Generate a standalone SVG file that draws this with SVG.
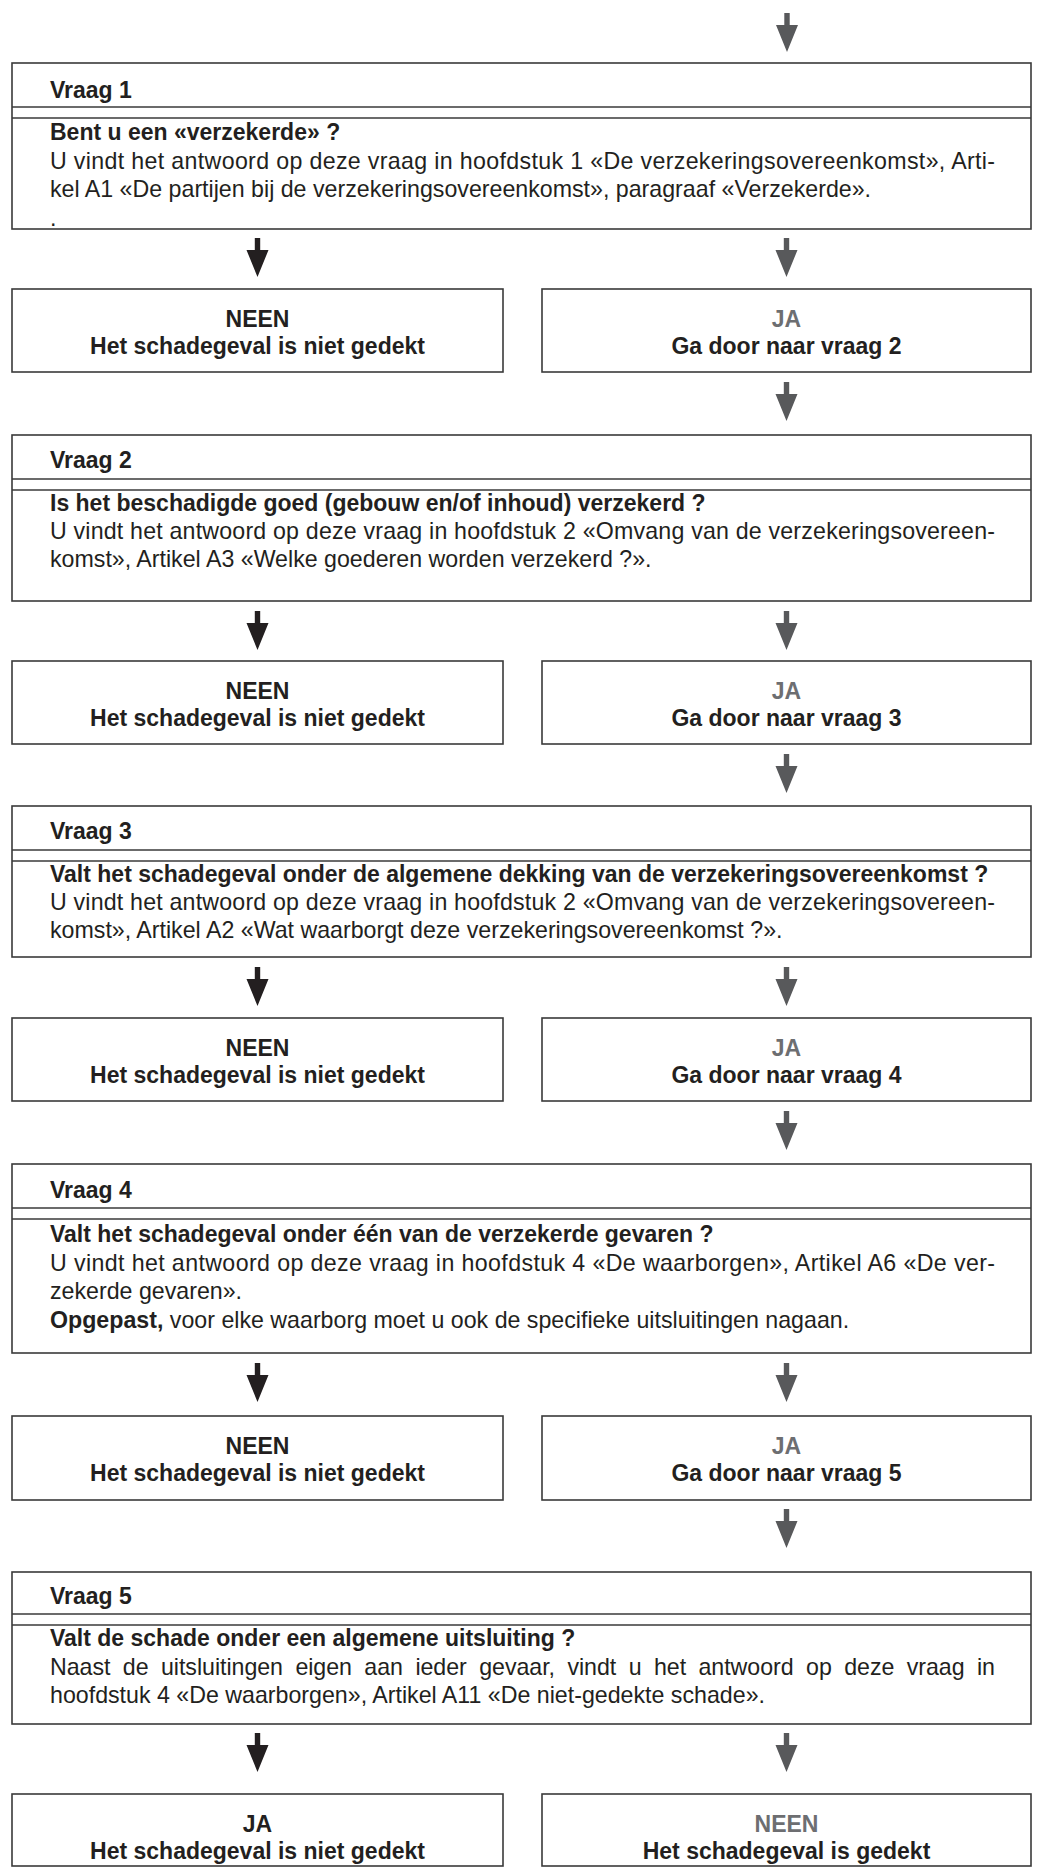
<svg xmlns="http://www.w3.org/2000/svg" xmlns:xlink="http://www.w3.org/1999/xlink" width="1038" height="1867" viewBox="0 0 1038 1867">
<style>
.box{fill:#fff;stroke:#3a3a3a;stroke-width:1.6}
.hl{stroke:#3a3a3a;stroke-width:1.6}
.b{font-family:"Liberation Sans",Arial,sans-serif;font-weight:bold;font-size:23px;fill:#231f20}
.r{font-family:"Liberation Sans",Arial,sans-serif;font-size:23.2px;fill:#231f20}
.c{text-anchor:middle}
.g{fill:#6d6e71}
.ak{fill:#231f20}
.ag{fill:#58595b}
</style>
<defs>
<path id="arr" d="M-2.7,0 H2.7 V12 H11 L0,39 L-11,12 H-2.7 Z"/>
</defs>
<g id="connectors">
<use xlink:href="#arr" href="#arr" x="787" y="13" class="ag"/>
<use xlink:href="#arr" href="#arr" x="257.5" y="238" class="ak"/>
<use xlink:href="#arr" href="#arr" x="786.5" y="238" class="ag"/>
<use xlink:href="#arr" href="#arr" x="786.5" y="382" class="ag"/>
<use xlink:href="#arr" href="#arr" x="257.5" y="611" class="ak"/>
<use xlink:href="#arr" href="#arr" x="786.5" y="611" class="ag"/>
<use xlink:href="#arr" href="#arr" x="786.5" y="754" class="ag"/>
<use xlink:href="#arr" href="#arr" x="257.5" y="967" class="ak"/>
<use xlink:href="#arr" href="#arr" x="786.5" y="967" class="ag"/>
<use xlink:href="#arr" href="#arr" x="786.5" y="1111" class="ag"/>
<use xlink:href="#arr" href="#arr" x="257.5" y="1363" class="ak"/>
<use xlink:href="#arr" href="#arr" x="786.5" y="1363" class="ag"/>
<use xlink:href="#arr" href="#arr" x="786.5" y="1509" class="ag"/>
<use xlink:href="#arr" href="#arr" x="257.5" y="1733" class="ak"/>
<use xlink:href="#arr" href="#arr" x="786.5" y="1733" class="ag"/>
</g>
<g id="vraag1">
<rect class="box" x="12" y="63" width="1019" height="166"/>
<line class="hl" x1="12" y1="107" x2="1031" y2="107"/>
<line class="hl" x1="12" y1="118" x2="1031" y2="118"/>
<text class="b" x="50" y="98">Vraag 1</text>
<text class="b" x="50" y="140">Bent u een «verzekerde» ?</text>
<text class="r" x="50" y="168.5" textLength="945" lengthAdjust="spacing">U vindt het antwoord op deze vraag in hoofdstuk 1 «De verzekeringsovereenkomst», Arti-</text>
<text class="r" x="50" y="197">kel A1 «De partijen bij de verzekeringsovereenkomst», paragraaf «Verzekerde».</text>
<text class="r" x="50" y="226">.</text>
</g>
<g id="neen1">
<rect class="box" x="12" y="289" width="491" height="83"/>
<text class="b c" x="257.5" y="327">NEEN</text>
<text class="b c" x="257.5" y="354">Het schadegeval is niet gedekt</text>
</g>
<g id="ja1">
<rect class="box" x="542" y="289" width="489" height="83"/>
<text class="b c g" x="786.5" y="327">JA</text>
<text class="b c" x="786.5" y="354">Ga door naar vraag 2</text>
</g>
<g id="vraag2">
<rect class="box" x="12" y="435" width="1019" height="166"/>
<line class="hl" x1="12" y1="479" x2="1031" y2="479"/>
<line class="hl" x1="12" y1="490" x2="1031" y2="490"/>
<text class="b" x="50" y="468">Vraag 2</text>
<text class="b" x="50" y="511">Is het beschadigde goed (gebouw en/of inhoud) verzekerd ?</text>
<text class="r" x="50" y="539" textLength="945" lengthAdjust="spacing">U vindt het antwoord op deze vraag in hoofdstuk 2 «Omvang van de verzekeringsovereen-</text>
<text class="r" x="50" y="567">komst», Artikel A3 «Welke goederen worden verzekerd ?».</text>
</g>
<g id="neen2">
<rect class="box" x="12" y="661" width="491" height="83"/>
<text class="b c" x="257.5" y="699">NEEN</text>
<text class="b c" x="257.5" y="726">Het schadegeval is niet gedekt</text>
</g>
<g id="ja2">
<rect class="box" x="542" y="661" width="489" height="83"/>
<text class="b c g" x="786.5" y="699">JA</text>
<text class="b c" x="786.5" y="726">Ga door naar vraag 3</text>
</g>
<g id="vraag3">
<rect class="box" x="12" y="806" width="1019" height="151"/>
<line class="hl" x1="12" y1="850" x2="1031" y2="850"/>
<line class="hl" x1="12" y1="861" x2="1031" y2="861"/>
<text class="b" x="50" y="839">Vraag 3</text>
<text class="b" x="50" y="882">Valt het schadegeval onder de algemene dekking van de verzekeringsovereenkomst ?</text>
<text class="r" x="50" y="910" textLength="945" lengthAdjust="spacing">U vindt het antwoord op deze vraag in hoofdstuk 2 «Omvang van de verzekeringsovereen-</text>
<text class="r" x="50" y="938">komst», Artikel A2 «Wat waarborgt deze verzekeringsovereenkomst ?».</text>
</g>
<g id="neen3">
<rect class="box" x="12" y="1018" width="491" height="83"/>
<text class="b c" x="257.5" y="1056">NEEN</text>
<text class="b c" x="257.5" y="1083">Het schadegeval is niet gedekt</text>
</g>
<g id="ja3">
<rect class="box" x="542" y="1018" width="489" height="83"/>
<text class="b c g" x="786.5" y="1056">JA</text>
<text class="b c" x="786.5" y="1083">Ga door naar vraag 4</text>
</g>
<g id="vraag4">
<rect class="box" x="12" y="1164" width="1019" height="189"/>
<line class="hl" x1="12" y1="1208" x2="1031" y2="1208"/>
<line class="hl" x1="12" y1="1219" x2="1031" y2="1219"/>
<text class="b" x="50" y="1198">Vraag 4</text>
<text class="b" x="50" y="1242">Valt het schadegeval onder één van de verzekerde gevaren ?</text>
<text class="r" x="50" y="1270.5" textLength="945" lengthAdjust="spacing">U vindt het antwoord op deze vraag in hoofdstuk 4 «De waarborgen», Artikel A6 «De ver-</text>
<text class="r" x="50" y="1299">zekerde gevaren».</text>
<text class="r" x="50" y="1327.5"><tspan font-weight="bold">Opgepast,</tspan> voor elke waarborg moet u ook de specifieke uitsluitingen nagaan.</text>
</g>
<g id="neen4">
<rect class="box" x="12" y="1416" width="491" height="84"/>
<text class="b c" x="257.5" y="1454">NEEN</text>
<text class="b c" x="257.5" y="1481">Het schadegeval is niet gedekt</text>
</g>
<g id="ja4">
<rect class="box" x="542" y="1416" width="489" height="84"/>
<text class="b c g" x="786.5" y="1454">JA</text>
<text class="b c" x="786.5" y="1481">Ga door naar vraag 5</text>
</g>
<g id="vraag5">
<rect class="box" x="12" y="1572" width="1019" height="152"/>
<line class="hl" x1="12" y1="1614" x2="1031" y2="1614"/>
<line class="hl" x1="12" y1="1625" x2="1031" y2="1625"/>
<text class="b" x="50" y="1604">Vraag 5</text>
<text class="b" x="50" y="1646">Valt de schade onder een algemene uitsluiting ?</text>
<text class="r" x="50" y="1674.5" word-spacing="6" textLength="945" lengthAdjust="spacing">Naast de uitsluitingen eigen aan ieder gevaar, vindt u het antwoord op deze vraag in</text>
<text class="r" x="50" y="1703">hoofdstuk 4 «De waarborgen», Artikel A11 «De niet-gedekte schade».</text>
</g>
<g id="ja5">
<rect class="box" x="12" y="1794" width="491" height="72"/>
<text class="b c" x="257.5" y="1832">JA</text>
<text class="b c" x="257.5" y="1859">Het schadegeval is niet gedekt</text>
</g>
<g id="neen5">
<rect class="box" x="542" y="1794" width="489" height="72"/>
<text class="b c g" x="786.5" y="1832">NEEN</text>
<text class="b c" x="786.5" y="1859">Het schadegeval is gedekt</text>
</g>
</svg>
